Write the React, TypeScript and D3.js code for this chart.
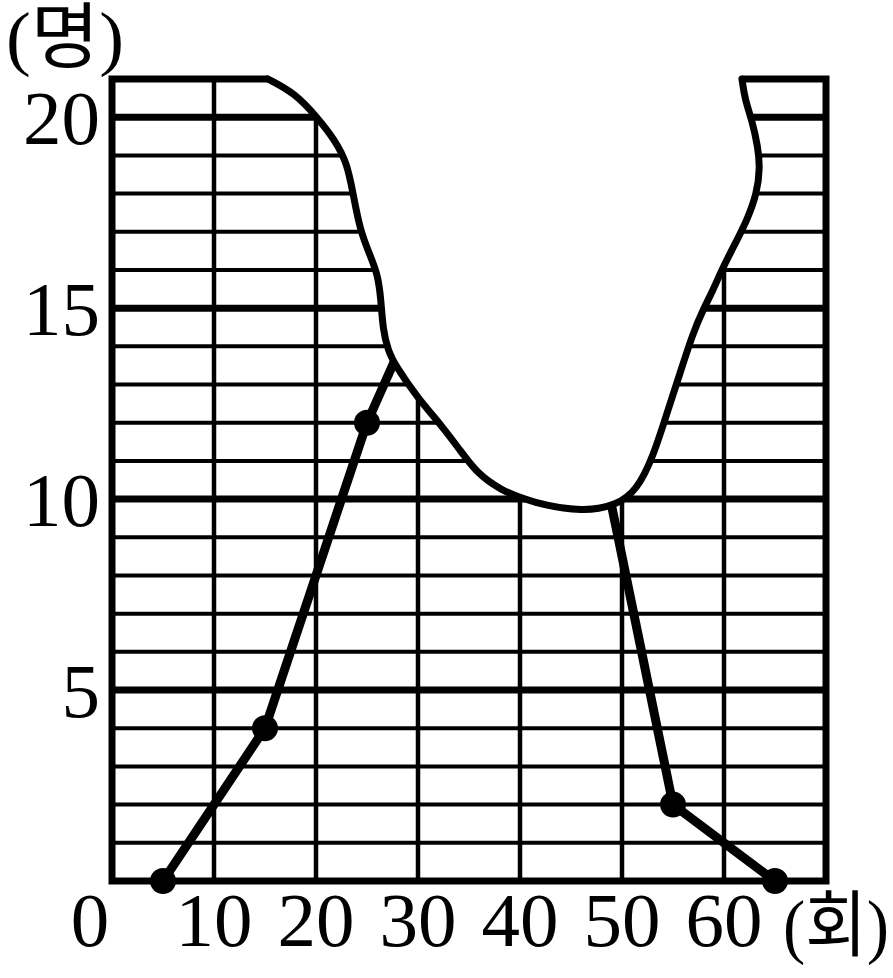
import React from "react";
import * as d3 from "d3";

// Data (frequency polygon): class marks (회) and counts (명)
const classMarks = [5, 15, 25, 35, 45, 55, 65];
const counts = [0, 4, 12, 18, 15, 2, 0];

const xTicks = [10, 20, 30, 40, 50, 60];
const yTicks = [5, 10, 15, 20];
const yMinor = d3.range(1, 21);
const xLabel = "(회)";
const yLabel = "(명)";

// Torn (erased) region outline, in data units (회, 명)
const tearX = [15.29, 17.94, 20.1, 21.86, 23.04, 23.63, 24.31, 25.29, 26.08, 26.37, 26.57, 27.06, 27.75, 29.9, 32.45, 34.12, 35.78, 38.04, 41.27, 46.18, 49.51, 51.47, 53.04, 54.41, 55.69, 56.96, 57.94, 58.92, 59.9, 61.27, 62.25, 63.24, 63.53, 63.33, 62.75, 62.06, 61.76];
const tearY = [21.0, 20.63, 20.0, 19.4, 18.8, 18.01, 17.04, 16.39, 15.86, 15.21, 14.42, 13.9, 13.51, 12.67, 11.88, 11.28, 10.68, 10.24, 9.9, 9.66, 9.84, 10.24, 11.1, 12.25, 13.3, 14.35, 14.95, 15.47, 16.07, 16.78, 17.3, 18.01, 18.69, 19.21, 19.92, 20.45, 21.0];

const W = 893;
const H = 978;

export default function App() {
  const x = d3.scaleLinear().domain([0, 70]).range([112, 826]);
  const y = d3.scaleLinear().domain([0, 21]).range([881, 79]);

  const pts: [number, number][] = classMarks.map((m, i) => [m, counts[i]]);
  const line = d3
    .line<[number, number]>()
    .x((d) => x(d[0]))
    .y((d) => y(d[1]));

  const tearPts: [number, number][] = tearX.map((v, i) => [v, tearY[i]]);
  const tearLine = d3
    .line<[number, number]>()
    .x((d) => x(d[0]))
    .y((d) => y(d[1]))
    .curve(d3.curveBasis);
  const tearStroke = tearLine(tearPts) || "";
  const first = tearPts[0];
  const last = tearPts[tearPts.length - 1];
  const tearFill =
    tearStroke +
    `L${x(last[0])},${y(22.5)}L${x(first[0])},${y(22.5)}Z`;

  const font = "'Liberation Serif', 'Times New Roman', 'Noto Sans CJK KR', serif";
  const fs = 77;

  return (
    <svg
      width={W}
      height={H}
      style={{ position: "absolute", left: 0, top: 0, display: "block", background: "#fff" }}
    >
      <rect x={0} y={0} width={W} height={H} fill="#fff" />
      {/* minor horizontal grid */}
      {yMinor.map((v) => (
        <line
          key={"h" + v}
          x1={x(0)}
          x2={x(70)}
          y1={y(v)}
          y2={y(v)}
          stroke="#000"
          strokeWidth={v % 5 === 0 ? 7 : 4}
        />
      ))}
      {/* vertical grid */}
      {xTicks.map((v) => (
        <line
          key={"v" + v}
          x1={x(v)}
          x2={x(v)}
          y1={y(0)}
          y2={y(21)}
          stroke="#000"
          strokeWidth={4.5}
        />
      ))}
      {/* frame */}
      <rect
        x={x(0)}
        y={y(21)}
        width={x(70) - x(0)}
        height={y(0) - y(21)}
        fill="none"
        stroke="#000"
        strokeWidth={7}
      />
      {/* frequency polygon */}
      <path d={line(pts) || ""} fill="none" stroke="#000" strokeWidth={9} strokeLinejoin="round" />
      {pts.map((p, i) => (
        <circle key={"c" + i} cx={x(p[0])} cy={y(p[1])} r={13} fill="#000" />
      ))}
      {/* torn region */}
      <path d={tearFill} fill="#fff" stroke="none" />
      <path d={tearStroke} fill="none" stroke="#000" strokeWidth={7} strokeLinecap="round" />

      {/* y tick labels */}
      {yTicks.map((v) => (
        <text
          key={"yt" + v}
          x={x(0) - 12}
          y={y(v) + 27}
          textAnchor="end"
          fontFamily={font}
          fontSize={fs}
          fill="#000"
        >
          {v}
        </text>
      ))}
      {/* x tick labels */}
      {xTicks.map((v) => (
        <text
          key={"xt" + v}
          x={x(v)}
          y={946}
          textAnchor="middle"
          fontFamily={font}
          fontSize={fs}
          fill="#000"
        >
          {v}
        </text>
      ))}
      <text x={x(0) - 22} y={946} textAnchor="middle" fontFamily={font} fontSize={fs} fill="#000">
        0
      </text>
      <text
        x={783}
        y={950}
        textAnchor="start"
        fontFamily={font}
        fontSize={72}
        textLength={106}
        lengthAdjust="spacingAndGlyphs"
        fill="#000"
      >
        {xLabel}
      </text>
      <text
        x={6}
        y={62}
        textAnchor="start"
        fontFamily={font}
        fontSize={72}
        textLength={118}
        lengthAdjust="spacingAndGlyphs"
        fill="#000"
      >
        {yLabel}
      </text>
    </svg>
  );
}
